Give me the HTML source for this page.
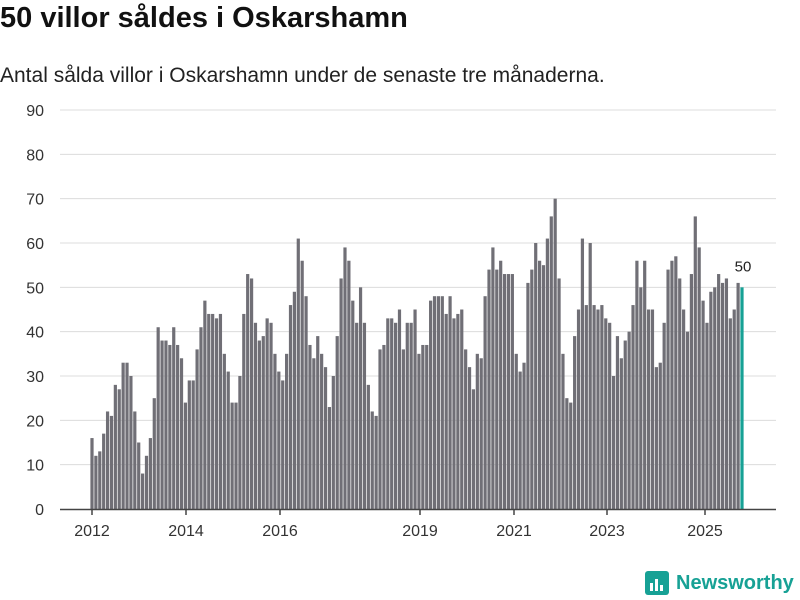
<!DOCTYPE html>
<html><head><meta charset="utf-8"><style>
body{margin:0;width:800px;height:600px;background:#fff;font-family:"Liberation Sans",sans-serif;overflow:hidden}
h1{position:absolute;left:0;top:2px;margin:0;font-size:29px;font-weight:bold;color:#111}
.sub{position:absolute;left:0;top:64px;font-size:21px;color:#222}
svg{position:absolute;left:0;top:0}
</style></head><body>
<h1>50 villor såldes i Oskarshamn</h1>
<div class="sub">Antal sålda villor i Oskarshamn under de senaste tre månaderna.</div>
<svg id="c" width="800" height="600"></svg>
<script>
const values=[16,12,13,17,22,21,28,27,33,33,30,22,
15,8,12,16,25,41,38,38,37,41,37,34,
24,29,29,36,41,47,44,44,43,44,35,31,
24,24,30,44,53,52,42,38,39,43,42,35,
31,29,35,46,49,61,56,48,37,34,39,35,
32,23,30,39,52,59,56,47,42,50,42,28,
22,21,36,37,43,43,42,45,36,42,42,45,
35,37,37,47,48,48,48,44,48,43,44,45,
36,32,27,35,34,48,54,59,54,56,53,53,
53,35,31,33,51,54,60,56,55,61,66,70,
52,35,25,24,39,45,61,46,60,46,45,46,
43,42,30,39,34,38,40,46,56,50,56,45,
45,32,33,42,54,56,57,52,45,40,53,66,
59,47,42,49,50,53,51,52,43,45,51,50];
const yTicks=[0,10,20,30,40,50,60,70,80,90];
const xTickLabels=["2012","2014","2016","2019","2021","2023","2025"];
const xTickPos=[92,186,280,420,514,607,705];
const NS="http://www.w3.org/2000/svg";
const svg=document.getElementById('c');
const y=v=>509-v*(399/90);
const x=i=>92+i*(650/(values.length-1));
function mk(t,a){const e=document.createElementNS(NS,t);for(const k in a)e.setAttribute(k,a[k]);svg.appendChild(e);return e;}
yTicks.forEach(t=>{
  if(t>0){const g=mk('line',{x1:60,x2:776,y1:y(t),y2:y(t),stroke:'#dcdcdc','stroke-width':1});
  
  }
  const l=mk('text',{x:44,y:y(t)+6,'text-anchor':'end','font-size':16,fill:'#333','font-family':'Liberation Sans, sans-serif'});
  l.textContent=t;
  
  
});
values.forEach((v,i)=>{
  const last=i===values.length-1;
  const r=mk('rect',{x:x(i)-1.6,y:y(v),width:3.2,height:509-y(v),fill:last?'#17a195':'#706f76'});
  
  
});
const lv=values[values.length-1];
const lab=mk('text',{x:x(values.length-1)+1,y:y(lv)-16,'text-anchor':'middle','font-size':15,fill:'#222','font-family':'Liberation Sans, sans-serif'});
lab.textContent=lv;


const ax=mk('line',{x1:60,x2:776,y1:509.5,y2:509.5,stroke:'#444','stroke-width':1.5});


xTickLabels.forEach((t,i)=>{
  const tk=mk('line',{x1:xTickPos[i],x2:xTickPos[i],y1:509,y2:515,stroke:'#444','stroke-width':1.5});
  
  
  const l=mk('text',{x:xTickPos[i],y:536,'text-anchor':'middle','font-size':16,fill:'#333','font-family':'Liberation Sans, sans-serif'});
  l.textContent=t;
  
  
});
</script>
<svg width="800" height="600" style="pointer-events:none">
<rect x="645" y="571" width="24" height="24" rx="3" fill="#17a195"/>
<rect x="650" y="583" width="3" height="8" fill="#fff"/><rect x="655" y="579" width="3" height="12" fill="#fff"/><rect x="660" y="585" width="3" height="6" fill="#fff"/>
<text x="676" y="589" font-size="20" font-weight="bold" fill="#17a195" font-family="Liberation Sans, sans-serif">Newsworthy</text>
</svg>
</body></html>
